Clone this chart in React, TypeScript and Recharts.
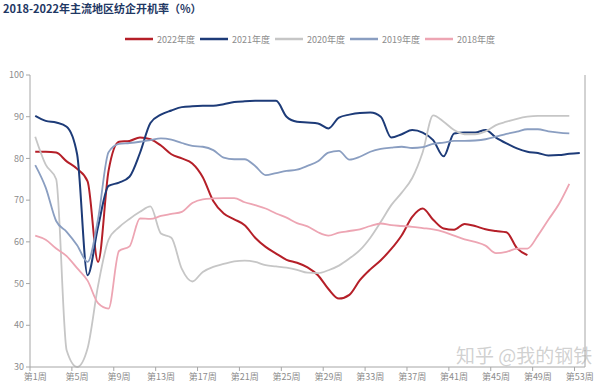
import { LineChart, Line, XAxis, YAxis } from 'recharts';

// week numbers (categories)
const weeks = [
  1, 2, 3, 4, 5, 6, 7, 8, 9, 10, 11, 12, 13, 14, 15, 16, 17, 18, 19, 20, 21, 22, 23, 24, 25, 26, 27,
  28, 29, 30, 31, 32, 33, 34, 35, 36, 37, 38, 39, 40, 41, 42, 43, 44, 45, 46, 47, 48, 49, 50, 51, 52, 53,
];

// 开机率 (%)
const rate2022 = [
  81.6, 81.6, 81.4, 79.3, 77.5, 74.5, 55.2, 77.0, 84.0, 84.2, 85.0, 84.6, 83.1, 81.0, 80.0, 78.8, 75.5,
  69.8, 66.8, 65.4, 64.0, 61.0, 58.8, 57.2, 55.7, 55.0, 53.9, 52.0, 48.7, 46.4, 47.3, 50.8, 53.4, 55.6,
  58.3, 61.6, 66.0, 68.0, 65.3, 63.2, 62.9, 64.3, 63.8, 63.0, 62.6, 62.3, 58.5, 56.8,
];
const rate2021 = [
  90.2, 89.0, 88.6, 87.6, 81.0, 52.0, 63.6, 73.4, 74.2, 75.6, 81.3, 88.5, 90.5, 91.5, 92.3, 92.5, 92.6,
  92.6, 93.0, 93.5, 93.7, 93.8, 93.8, 93.8, 90.0, 88.8, 88.6, 88.4, 87.2, 89.8, 90.5, 90.9, 91.0, 90.0,
  85.0, 85.8, 86.8, 86.2, 84.4, 80.5, 86.0, 86.2, 86.2, 86.8, 85.0, 83.6, 82.4, 81.6, 81.3, 80.7, 80.8,
  81.1, 81.3,
];
const rate2020 = [
  85.2, 78.5, 75.0, 34.0, 30.0, 34.5, 49.5, 60.5, 63.5, 65.5, 67.2, 68.5, 62.0, 61.0, 53.5, 50.5, 52.8,
  54.0, 54.7, 55.3, 55.5, 55.2, 54.4, 54.1, 53.8, 53.3, 52.6, 52.5, 53.2, 54.3, 56.0, 58.0, 61.0, 64.8,
  68.8, 71.8, 75.3, 81.5, 90.3, 88.8, 86.8, 85.8, 85.8, 86.5, 88.0, 88.8, 89.5, 90.0, 90.2, 90.2, 90.2,
  90.2,
];
const rate2019 = [
  78.4, 73.0, 65.0, 62.4, 59.2, 55.2, 65.5, 81.5, 83.5, 83.7, 84.0, 84.4, 84.8, 84.5, 83.7, 83.0, 82.8,
  82.0, 80.2, 79.8, 79.8, 78.2, 76.0, 76.5, 77.0, 77.3, 78.2, 79.3, 81.4, 81.8, 79.7, 80.4, 81.6, 82.3,
  82.6, 82.8, 82.5, 82.7, 83.5, 83.8, 84.2, 84.2, 84.3, 84.6, 85.2, 85.9, 86.4, 87.0, 87.0, 86.5, 86.2,
  86.0,
];
const rate2018 = [
  61.5, 60.5, 58.4, 56.6, 53.7, 50.7, 45.3, 44.0, 57.8, 58.9, 65.6, 65.5, 66.2, 66.7, 67.2, 69.3, 70.2,
  70.4, 70.5, 70.5, 69.5, 68.8, 68.0, 66.8, 65.8, 64.5, 63.7, 62.3, 61.5, 62.2, 62.6, 63.0, 63.8, 64.4,
  64.0, 63.8, 63.6, 63.3, 63.0, 62.4, 61.5, 60.6, 60.0, 59.1, 57.3, 57.6, 58.4, 58.4, 61.5, 65.3, 69.0,
  73.9,
];

const yTicks = [30, 40, 50, 60, 70, 80, 90, 100];
// tick marks sit on the category boundaries, every 4 weeks
const xTicks = [0.5, 4.5, 8.5, 12.5, 16.5, 20.5, 24.5, 28.5, 32.5, 36.5, 40.5, 44.5, 48.5, 52.5];

const SERIES = [
  { key: 'y2022', name: '2022年度', color: '#b51f28', width: 2, values: rate2022 },
  { key: 'y2021', name: '2021年度', color: '#1d3b78', width: 2, values: rate2021 },
  { key: 'y2020', name: '2020年度', color: '#c6c6c6', width: 1.8, values: rate2020 },
  { key: 'y2019', name: '2019年度', color: '#8a9ec1', width: 1.8, values: rate2019 },
  { key: 'y2018', name: '2018年度', color: '#eda5b3', width: 1.8, values: rate2018 },
];

const data = weeks.map((week, i) => {
  const row: Record<string, number | null> = { week };
  SERIES.forEach((s) => {
    row[s.key] = i < s.values.length ? s.values[i] : null;
  });
  return row;
});

const WIDTH = 600;
const HEIGHT = 386;
const PLOT_LEFT = 30;
const PLOT_RIGHT = 585;
const HALF_BAND = (PLOT_RIGHT - PLOT_LEFT) / weeks.length / 2;
const AXIS = '#a6a6a6';
const LABEL = '#8c8c8c';

function WeekTick({ x, y, payload }: any) {
  return (
    <text x={x + HALF_BAND} y={y} dy={7} textAnchor="middle" fontSize={9} fill={LABEL}>
      {`第${payload.value + 0.5}周`}
    </text>
  );
}

function YearLegend() {
  return (
    <div style={{ position: 'absolute', left: 125, top: 33, display: 'flex' }}>
      {SERIES.map((s) => (
        <div key={s.key} style={{ width: 75, display: 'flex', alignItems: 'center', height: 12 }}>
          <svg width={28} height={4} style={{ marginRight: 4 }}>
            <line x1={0} y1={2} x2={28} y2={2} stroke={s.color} strokeWidth={2.5} />
          </svg>
          <span style={{ fontSize: 9, color: LABEL, whiteSpace: 'nowrap' }}>{s.name}</span>
        </div>
      ))}
    </div>
  );
}

export default function App() {
  return (
    <div
      style={{
        position: 'absolute',
        left: 0,
        top: 0,
        width: WIDTH,
        height: HEIGHT,
        background: '#fff',
        fontFamily: '"Noto Sans CJK SC", "Noto Sans", sans-serif',
      }}
    >
      <div
        style={{
          position: 'absolute',
          left: 3,
          top: 0,
          fontSize: 11,
          fontWeight: 700,
          color: '#1f3864',
          whiteSpace: 'nowrap',
        }}
      >
        2018-2022年主流地区纺企开机率（%）
      </div>
      <YearLegend />
      <LineChart width={WIDTH} height={HEIGHT} data={data} margin={{ top: 75, right: 0, bottom: 0, left: 0 }}>
        <XAxis
          dataKey="week"
          type="number"
          domain={[0.5, 53.5]}
          ticks={xTicks}
          interval={0}
          height={19}
          tickSize={4}
          stroke={AXIS}
          tick={<WeekTick />}
        />
        <YAxis
          yAxisId="l"
          domain={[30, 100]}
          ticks={yTicks}
          interval={0}
          width={30}
          tickSize={4}
          tickMargin={2}
          stroke={AXIS}
          tick={{ fontSize: 9, fill: LABEL }}
        />
        <YAxis yAxisId="r" orientation="right" domain={[30, 100]} width={15} tick={false} tickLine={false} stroke={AXIS} />
        {SERIES.map((s) => (
          <Line
            key={s.key}
            yAxisId="l"
            type="monotone"
            dataKey={s.key}
            name={s.name}
            stroke={s.color}
            strokeWidth={s.width}
            dot={false}
            activeDot={false}
            isAnimationActive={false}
          />
        ))}
      </LineChart>
      <div
        style={{
          position: 'absolute',
          left: 456,
          top: 341,
          fontSize: 19,
          color: 'rgba(170,170,170,0.55)',
          whiteSpace: 'nowrap',
          pointerEvents: 'none',
        }}
      >
        知乎 @我的钢铁
      </div>
    </div>
  );
}
